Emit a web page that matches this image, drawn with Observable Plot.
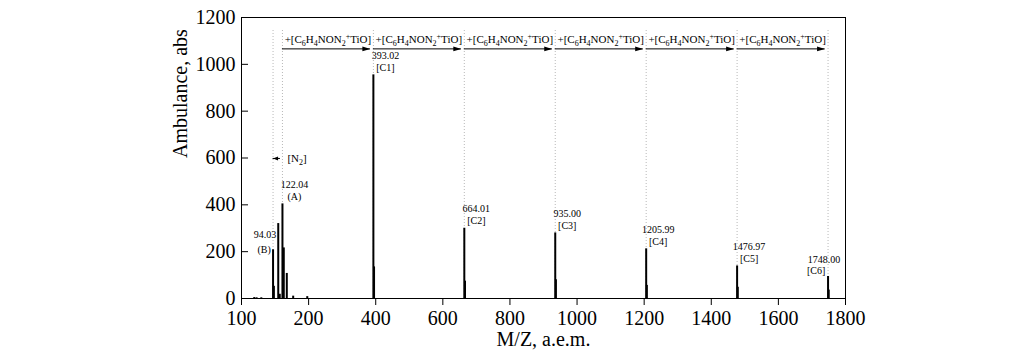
<!DOCTYPE html>
<html><head><meta charset="utf-8">
<script src="https://cdn.jsdelivr.net/npm/d3@7"></script>
<script src="https://cdn.jsdelivr.net/npm/@observablehq/plot@0.6"></script>
<style>
html,body{margin:0;padding:0;background:#fff;}
#chart svg{display:block;}
</style></head><body><div id="chart"></div>
<script>
// ---- data ----
const spectrumMass = [38, 45, 59, 94.03, 96.5, 109.5, 114, 122.04, 126, 135, 154, 196, 393.02, 395, 664.01, 666, 935.0, 937, 1205.99, 1208, 1476.97, 1479, 1748.0, 1750];
const spectrumIntensity = [4, 3, 3, 208, 52, 320, 18, 404, 216, 107, 10, 8, 955, 135, 300, 74, 280, 80, 212, 56, 139, 48, 94, 36];

const peakMass = [94.03, 122.04, 393.02, 664.01, 935.00, 1205.99, 1476.97, 1748.00];
const peakIntensity = [208, 404, 955, 300, 280, 212, 139, 94];
const peakValueText = ["94.03", "122.04", "393.02", "664.01", "935.00", "1205.99", "1476.97", "1748.00"];
const peakName = ["(B)", "(A)", "[C1]", "[C2]", "[C3]", "[C4]", "[C5]", "[C6]"];

const stepParts = [["+[C", ""], ["6", "sub"], ["H", ""], ["4", "sub"], ["NON", ""], ["2", "sub"], ["+", "sup"], ["TiO]", ""]];
const lossParts = [["[N", ""], ["2", "sub"], ["]", ""]];

const xTickValues = [0, 200, 400, 600, 800, 1000, 1200, 1400, 1600, 1800];
const xTickLabels = ["100", "200", "400", "600", "800", "1000", "1200", "1400", "1600", "1800"];
const yTickValues = [0, 200, 400, 600, 800, 1000, 1200];
const yTickLabels = ["0", "200", "400", "600", "800", "1000", "1200"];

const xLabel = "M/Z, a.e.m.";
const yLabel = "Ambulance, abs";

// ---- derived tables ----
const spectrum = spectrumMass.map((m, i) => ({mass: m, value: spectrumIntensity[i]}));
const peaks = peakMass.map((m, i) => ({mass: m, value: peakIntensity[i], num: peakValueText[i], name: peakName[i]}));
const steps = d3.range(1, peaks.length - 1).map(i => ({from: peakMass[i], to: peakMass[i + 1]}));
const loss = [{from: peakMass[0], to: peakMass[1]}];
const partsText = p => p.map(d => d[0]).join("");

// layout constants (data units of y scale)
const GUIDE_TOP = 1153, ARROW_Y = 1066, STEP_LABEL_Y = 1106, LOSS_Y = 598;

const arrowRight = {draw(ctx) { ctx.moveTo(0, 0); ctx.lineTo(-8, -2.3); ctx.lineTo(-8, 2.3); ctx.closePath(); }};
const arrowLeft = {draw(ctx) { ctx.moveTo(0, 0); ctx.lineTo(5, -2); ctx.lineTo(5, 2); ctx.closePath(); }};

const general = peaks.filter(d => d.name !== "(B)" && d.name !== "[C6]");
const pB = peaks.filter(d => d.name === "(B)");
const pC6 = peaks.filter(d => d.name === "[C6]");

const serif = "'Liberation Serif', 'Times New Roman', Times, serif";

const plot = Plot.plot({
  width: 1033,
  height: 360,
  marginLeft: 241,
  marginRight: 188,
  marginTop: 17,
  marginBottom: 62,
  style: {fontFamily: serif, background: "white", color: "black"},
  x: {domain: [0, 1800]},
  y: {domain: [0, 1200]},
  marks: [
    Plot.ruleX(peaks, {x: "mass", y1: 0, y2: GUIDE_TOP, stroke: "#b8b8b8", strokeWidth: 1, strokeDasharray: "1,2"}),
    Plot.ruleX(spectrum, {x: "mass", y1: 0, y2: "value", stroke: "black", strokeWidth: 2}),
    // step arrows
    Plot.ruleY(steps, {x1: "from", x2: "to", y: () => ARROW_Y, stroke: "black", strokeWidth: 1, insetRight: 3}),
    Plot.dot(steps, {x: "to", y: () => ARROW_Y, symbol: arrowRight, fill: "black", stroke: "none", dx: -3}),
    Plot.text(steps, {x: d => (d.from + d.to) / 2, y: () => STEP_LABEL_Y, text: () => partsText(stepParts), fontSize: 11, className: "stepformula"}),
    // N2 loss arrow
    Plot.ruleY(loss, {x1: "from", x2: "to", y: () => LOSS_Y, stroke: "black", strokeWidth: 1, insetRight: 2}),
    Plot.dot(loss, {x: "from", y: () => LOSS_Y, symbol: arrowLeft, fill: "black", stroke: "none"}),
    Plot.text(loss, {x: "to", y: () => LOSS_Y, text: () => partsText(lossParts), textAnchor: "start", dx: 5, fontSize: 11, className: "lossformula"}),
    // peak labels
    Plot.text(general, {x: "mass", y: "value", text: "num", dx: 12, dy: -19, fontSize: 10}),
    Plot.text(general, {x: "mass", y: "value", text: "name", dx: 12, dy: -7, fontSize: 10}),
    Plot.text(pB, {x: "mass", y: "value", text: "num", dx: -8, dy: -15, fontSize: 10}),
    Plot.text(pB, {x: "mass", y: "value", text: "name", dx: -9, dy: 0, fontSize: 10}),
    Plot.text(pC6, {x: "mass", y: "value", text: "num", dx: -4, dy: -17, fontSize: 10}),
    Plot.text(pC6, {x: "mass", y: "value", text: "name", dx: -12, dy: -6, fontSize: 10}),
    // axes
    Plot.axisX({ticks: xTickValues, tickFormat: d => xTickLabels[xTickValues.indexOf(d)], tickSize: 7, tickPadding: 5, fontSize: 20, label: null}),
    Plot.axisY({ticks: yTickValues, tickFormat: d => yTickLabels[yTickValues.indexOf(d)], tickSize: -7, tickPadding: 13, fontSize: 20, label: null}),
    Plot.frame({stroke: "black", strokeWidth: 1}),
    Plot.text([xLabel], {text: d => d, frameAnchor: "bottom", dy: 47, fontSize: 20}),
    Plot.text([yLabel], {text: d => d, frameAnchor: "left", rotate: -90, dx: -61, fontSize: 20})
  ]
});

// rich text: subscripts / superscripts
function richify(sel, parts) {
  d3.select(plot).selectAll(sel).each(function() {
    const t = d3.select(this);
    t.text(null);
    let shift = 0;
    for (const [s, kind] of parts) {
      const target = kind === "sub" ? 3 : kind === "sup" ? -4 : 0;
      t.append("tspan")
        .attr("dy", target - shift)
        .attr("font-size", kind ? 8 : null)
        .text(s);
      shift = target;
    }
  });
}
richify("g.stepformula text", stepParts);
richify("g.lossformula text", lossParts);

document.getElementById("chart").appendChild(plot);
</script>
</body></html>
